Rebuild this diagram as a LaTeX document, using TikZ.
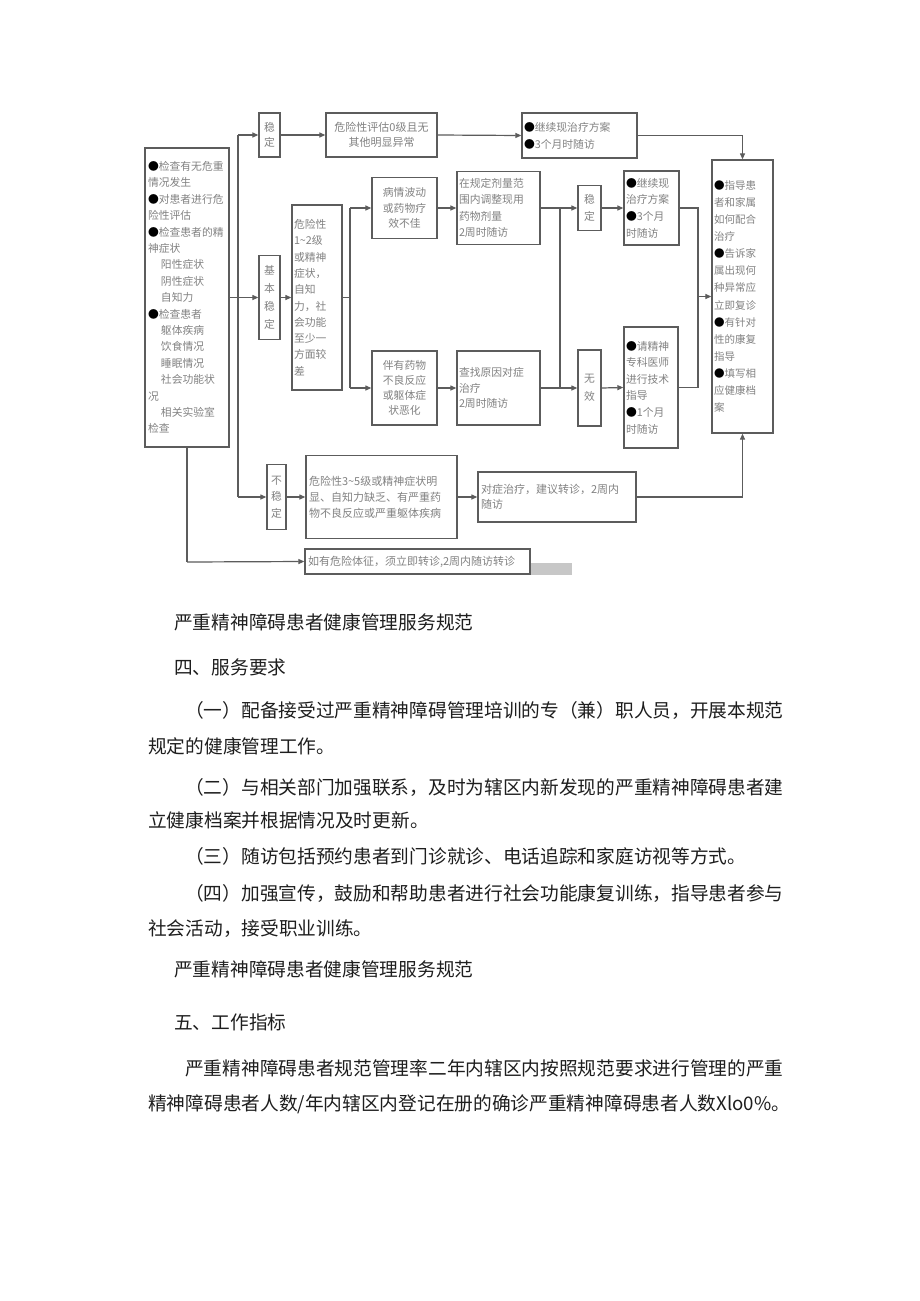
\documentclass[tikz,border=0pt]{standalone}
\usepackage{fontspec}
\newfontfamily\cjk{Noto Sans CJK SC}
\usetikzlibrary{arrows.meta}
\definecolor{boxc}{HTML}{5C5C5C}
\definecolor{txtc}{HTML}{828282}
\definecolor{bodyc}{HTML}{1E1E1E}
\tikzset{
  box/.style={draw=boxc, line width=1.3pt, inner sep=0pt, text=txtc,
    font=\cjk\fontsize{10.8}{16.4}\selectfont},
  conn/.style={draw=boxc, line width=1.2pt},
  arr/.style={conn, -{Triangle[length=6pt,width=5pt]}},
  body/.style={anchor=west, inner sep=0pt, text=bodyc,
    font=\cjk\fontsize{18.7}{18.7}\selectfont},
}
\newcommand{\ind}{\hspace*{1.2em}}
\newcommand{\bul}{\textcolor{black}{●}}
\begin{document}
\begin{tikzpicture}[x=1pt,y=-1pt]
\useasboundingbox[fill=white] (0,0) rectangle (920,1301);

% ---------- boxes ----------
\node[box, minimum width=84, minimum height=299, text width=78, align=left] (left) at (187,297.5)
 {\bul 检查有无危重\\情况发生\\\bul 对患者进行危\\险性评估\\\bul 检查患者的精\\神症状\\\ind 阳性症状\\\ind 阴性症状\\\ind 自知力\\\bul 检查患者\\\ind 躯体疾病\\\ind 饮食情况\\\ind 睡眠情况\\\ind 社会功能状\\况\\\ind 相关实验室\\检查};

\node[box, minimum width=21, minimum height=44, align=center, font=\cjk\fontsize{10.8}{15}\selectfont] (s1) at (269.5,135) {稳\\定};
\node[box, minimum width=111, minimum height=44, align=center, font=\cjk\fontsize{11}{15}\selectfont] (r0) at (381.5,135) {危险性评估0级且无\\其他明显异常};
\node[box, minimum width=115, minimum height=45, text width=111, align=left, font=\cjk\fontsize{10.8}{17}\selectfont] (tr) at (579.5,135.5) {\bul 继续现治疗方案\\\bul 3个月时随访};

\node[box, minimum width=21, minimum height=84, align=center, font=\cjk\fontsize{10.8}{18}\selectfont] (s2) at (269.5,297.5) {基\\本\\稳\\定};
\node[box, minimum width=50, minimum height=185, text width=46, align=left, font=\cjk\fontsize{10.8}{16.3}\selectfont] (r12) at (317,297.5)
 {危险性\\1\textasciitilde 2级\\或精神\\症状，\\自知\\力，社\\会功能\\至少一\\方面较\\差};

\node[box, minimum width=65, minimum height=61, align=center, font=\cjk\fontsize{10.8}{15.5}\selectfont] (p1) at (404.5,208) {病情波动\\或药物疗\\效不佳};
\node[box, minimum width=83, minimum height=73, text width=79, align=left, font=\cjk\fontsize{10.8}{16.3}\selectfont] (a1) at (498.5,208) {在规定剂量范\\围内调整现用\\药物剂量\\2周时随访};
\node[box, minimum width=65, minimum height=74, align=center, font=\cjk\fontsize{10.8}{15}\selectfont] (p2) at (404.5,388) {伴有药物\\不良反应\\或躯体症\\状恶化};
\node[box, minimum width=83, minimum height=74, text width=79, align=left, font=\cjk\fontsize{10.8}{15.5}\selectfont] (a2) at (498.5,388) {查找原因对症\\治疗\\2周时随访};

\node[box, minimum width=23, minimum height=45, align=center, font=\cjk\fontsize{10.8}{17}\selectfont] (s4) at (589.5,208) {稳\\定};
\node[box, minimum width=55, minimum height=74, text width=51, align=left, font=\cjk\fontsize{10.8}{16.7}\selectfont] (m1) at (651.5,208) {\bul 继续现\\治疗方案\\\bul 3个月\\时随访};
\node[box, minimum width=23, minimum height=76, align=center, font=\cjk\fontsize{10.8}{18}\selectfont] (nx) at (589.5,388) {无\\效};
\node[box, minimum width=54, minimum height=121, text width=50, align=left, font=\cjk\fontsize{10.8}{16.6}\selectfont] (m2) at (651,387.5) {\bul 请精神\\专科医师\\进行技术\\指导\\\bul 1个月\\时随访};

\node[box, minimum width=61, minimum height=273, text width=57, align=left, font=\cjk\fontsize{10.5}{17.1}\selectfont] (rb) at (742.5,296.5)
 {\bul 指导患\\者和家属\\如何配合\\治疗\\\bul 告诉家\\属出现何\\种异常应\\立即复诊\\\bul 有针对\\性的康复\\指导\\\bul 填写相\\应健康档\\案};

\node[box, minimum width=19, minimum height=65, align=center, font=\cjk\fontsize{10.8}{16.5}\selectfont] (s3) at (276.5,497) {不\\稳\\定};
\node[box, minimum width=151, minimum height=83, text width=145, align=left, font=\cjk\fontsize{11}{16}\selectfont] (r35) at (381.5,497)
 {危险性3\textasciitilde 5级或精神症状明\\显、自知力缺乏、有严重药\\物不良反应或严重躯体疾病};
\node[box, minimum width=158, minimum height=50, text width=152, align=left, font=\cjk\fontsize{11}{15.5}\selectfont] (tx) at (557,497)
 {对症治疗，建议转诊，2周内\\随访};
\node[box, minimum width=225, minimum height=25, text width=219, align=left, font=\cjk\fontsize{11}{13}\selectfont] (bt) at (417.5,561.5)
 {如有危险体征，须立即转诊,2周内随访转诊};
\fill[black!22] (531,563) rectangle (572,575);

% ---------- connectors ----------
\coordinate (jt) at (238,135);
\coordinate (jb) at (238,497);
\draw[conn] (jt) -- (jb);
\draw[arr] (jt) -- (s1.west);
\draw[arr] (left.east) -- (s2.west);
\draw[arr] (jb) -- (s3.west);
\draw[arr] (s1.east) -- (r0.west);
\draw[arr] (r0.east) -- (tr.west);
\draw[arr] (tr.east) -| (rb.north);
\draw[arr] (s2.east) -- (r12.west);

\coordinate (b1) at (350,208);
\coordinate (b2) at (350,388);
\draw[conn] (r12.east) -- (r12.east -| b1);
\draw[conn] (b1) -- (b2);
\draw[arr] (b1) -- (p1.west);
\draw[arr] (b2) -- (p2.west);
\draw[arr] (p1.east) -- (a1.west);
\draw[arr] (p2.east) -- (a2.west);

\coordinate (c1) at (560,208);
\coordinate (c2) at (560,388);
\draw[conn] (c1) -- (c2);
\draw[arr] (a1.east) -- (s4.west);
\draw[arr] (a2.east) -- (nx.west);
\draw[arr] (s4.east) -- (m1.west);
\draw[arr] (nx.east) -- (m2.west);

\coordinate (d1) at (698,208);
\coordinate (d2) at (698,387.5);
\coordinate (dm) at (698,296.5);
\draw[conn] (m1.east) -- (d1) -- (d2) -- (m2.east);
\draw[arr] (dm) -- (rb.west);

\draw[arr] (s3.east) -- (r35.west);
\draw[arr] (r35.east) -- (tx.west);
\draw[arr] (tx.east) -| (rb.south);

\coordinate (e1) at (187,562);
\draw[conn] (left.south) -- (e1);
\draw[arr] (e1) -- (bt.west);

% ---------- document text ----------
\node[body] (h1) at (174,622) {严重精神障碍患者健康管理服务规范};
\node[body] (h2) at (174,667) {四、服务要求};
\node[body] (l1) at (185,710) {（一）配备接受过严重精神障碍管理培训的专（兼）职人员，开展本规范};
\node[body] (l2) at (148,746) {规定的健康管理工作。};
\node[body] (l3) at (185,787) {（二）与相关部门加强联系，及时为辖区内新发现的严重精神障碍患者建};
\node[body] (l4) at (148,820) {立健康档案并根据情况及时更新。};
\node[body] (l5) at (185,856) {（三）随访包括预约患者到门诊就诊、电话追踪和家庭访视等方式。};
\node[body] (l6) at (185,893) {（四）加强宣传，鼓励和帮助患者进行社会功能康复训练，指导患者参与};
\node[body] (l7) at (148,929) {社会活动，接受职业训练。};
\node[body] (h3) at (174,969) {严重精神障碍患者健康管理服务规范};
\node[body] (h4) at (174,1022) {五、工作指标};
\node[body] (l8) at (185,1068) {严重精神障碍患者规范管理率二年内辖区内按照规范要求进行管理的严重};
\node[body] (l9) at (148,1104) {精神障碍患者人数/年内辖区内登记在册的确诊严重精神障碍患者人数Xlo0\%。};
\end{tikzpicture}
\end{document}
